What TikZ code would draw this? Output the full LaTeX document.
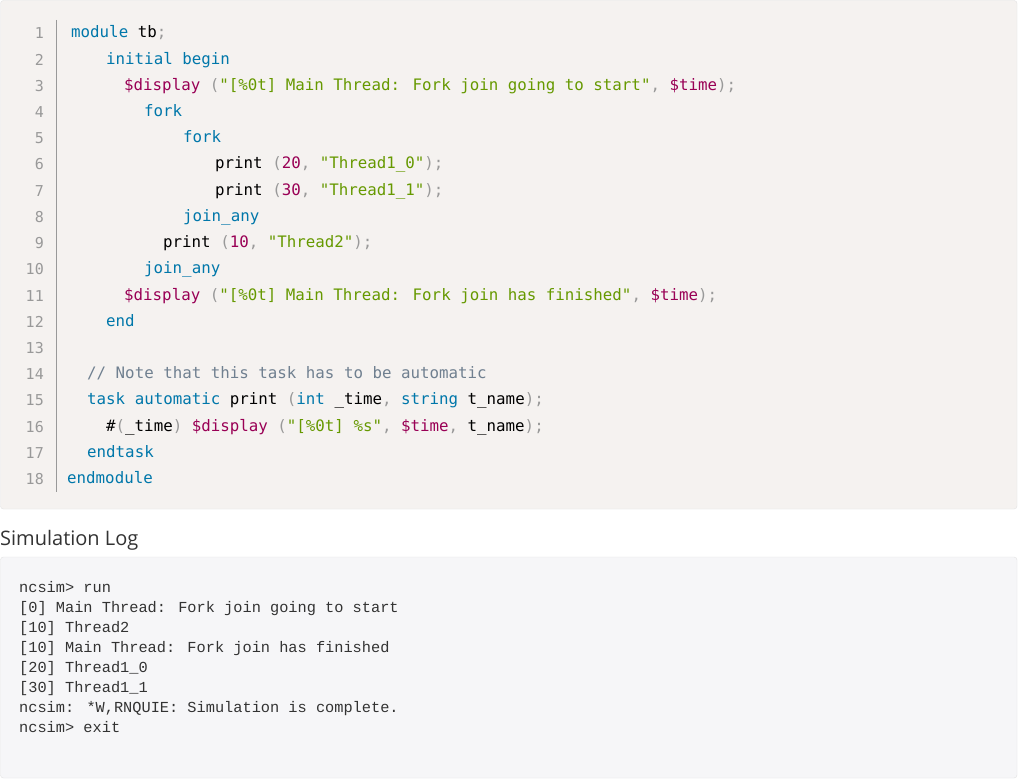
\documentclass[tikz,border=0pt]{standalone}
\usepackage{fontspec}
\setmainfont{Open Sans}
\newfontfamily\codefont{DejaVu Sans Mono}
\newfontfamily\logfont{Liberation Mono}
\definecolor{kw}{HTML}{0077AA}
\definecolor{fn}{HTML}{990055}
\definecolor{st}{HTML}{669900}
\definecolor{pu}{HTML}{999999}
\definecolor{cm}{HTML}{708090}
\definecolor{codebg}{HTML}{F5F2F0}
\definecolor{logbg}{HTML}{F6F6F8}
\definecolor{bord}{HTML}{E3E3E3}
\newcommand{\K}[1]{\textcolor{kw}{#1}}
\newcommand{\F}[1]{\textcolor{fn}{#1}}
\newcommand{\Sg}[1]{\textcolor{st}{#1}}
\newcommand{\Pn}[1]{\textcolor{pu}{#1}}
\begin{document}
\begin{tikzpicture}[x=1pt,y=-1pt,
  code/.style={anchor=base west,inner sep=0,font=\codefont\fontsize{15.8}{15.8}\selectfont,text=black},
  lno/.style={anchor=base east,inner sep=0,font=\codefont\fontsize{15}{15}\selectfont,text=pu},
  logl/.style={anchor=base west,inner sep=0,font=\logfont\fontsize{15.3}{15.3}\selectfont,text=black!80}]
\useasboundingbox (0,0) rectangle (1018,781);
\fill[white] (0,0) rectangle (1018,781);
\filldraw[fill=codebg,draw=bord,rounded corners=3] (0.5,0.5) rectangle (1017,509);
\draw[pu,line width=1] (56,20) -- (56,492);
\foreach \i in {1,...,18} { \node[lno] (n\i) at (44,{39+26.2*(\i-1)}) {\i}; }
\node[code] (c1) at (71,38) {\K{module} tb\Pn{;}};
\node[code] (c2) at (106,64.2) {\K{initial begin}};
\node[code] (c3) at (124,90.4) {\F{\$display} \Pn{(}\Sg{"[\%0t] Main Thread: Fork join going to start"}\Pn{,} \F{\$time}\Pn{);}};
\node[code] (c4) at (144,116.6) {\K{fork}};
\node[code] (c5) at (183,142.8) {\K{fork}};
\node[code] (c6) at (215,169) {print \Pn{(}\F{20}\Pn{,} \Sg{"Thread1\_0"}\Pn{);}};
\node[code] (c7) at (215,195.2) {print \Pn{(}\F{30}\Pn{,} \Sg{"Thread1\_1"}\Pn{);}};
\node[code] (c8) at (183,221.4) {\K{join\_any}};
\node[code] (c9) at (163,247.6) {print \Pn{(}\F{10}\Pn{,} \Sg{"Thread2"}\Pn{);}};
\node[code] (c10) at (144,273.8) {\K{join\_any}};
\node[code] (c11) at (124,300) {\F{\$display} \Pn{(}\Sg{"[\%0t] Main Thread: Fork join has finished"}\Pn{,} \F{\$time}\Pn{);}};
\node[code] (c12) at (106,326.2) {\K{end}};
\node[code] (c14) at (87,378.6) {\textcolor{cm}{// Note that this task has to be automatic}};
\node[code] (c15) at (87,404.8) {\K{task automatic} print \Pn{(}\K{int} \_time\Pn{,} \K{string} t\_name\Pn{);}};
\node[code] (c16) at (106,431) {\#\Pn{(}\_time\Pn{)} \F{\$display} \Pn{(}\Sg{"[\%0t] \%s"}\Pn{,} \F{\$time}\Pn{,} t\_name\Pn{);}};
\node[code] (c17) at (87,457.2) {\K{endtask}};
\node[code] (c18) at (67,483.4) {\K{endmodule}};
\node[anchor=base west,inner sep=0,font=\fontsize{20}{20}\selectfont,text=black!80] (title) at (0,545) {Simulation Log};
\filldraw[fill=logbg,draw=bord,rounded corners=3] (0.5,557) rectangle (1017,778);
\node[logl] (l1) at (19,592) {ncsim> run};
\node[logl] (l2) at (19,612) {[0] Main Thread: Fork join going to start};
\node[logl] (l3) at (19,632) {[10] Thread2};
\node[logl] (l4) at (19,652) {[10] Main Thread: Fork join has finished};
\node[logl] (l5) at (19,672) {[20] Thread1\_0};
\node[logl] (l6) at (19,692) {[30] Thread1\_1};
\node[logl] (l7) at (19,712) {ncsim: *W,RNQUIE: Simulation is complete.};
\node[logl] (l8) at (19,732) {ncsim> exit};
\end{tikzpicture}
\end{document}
